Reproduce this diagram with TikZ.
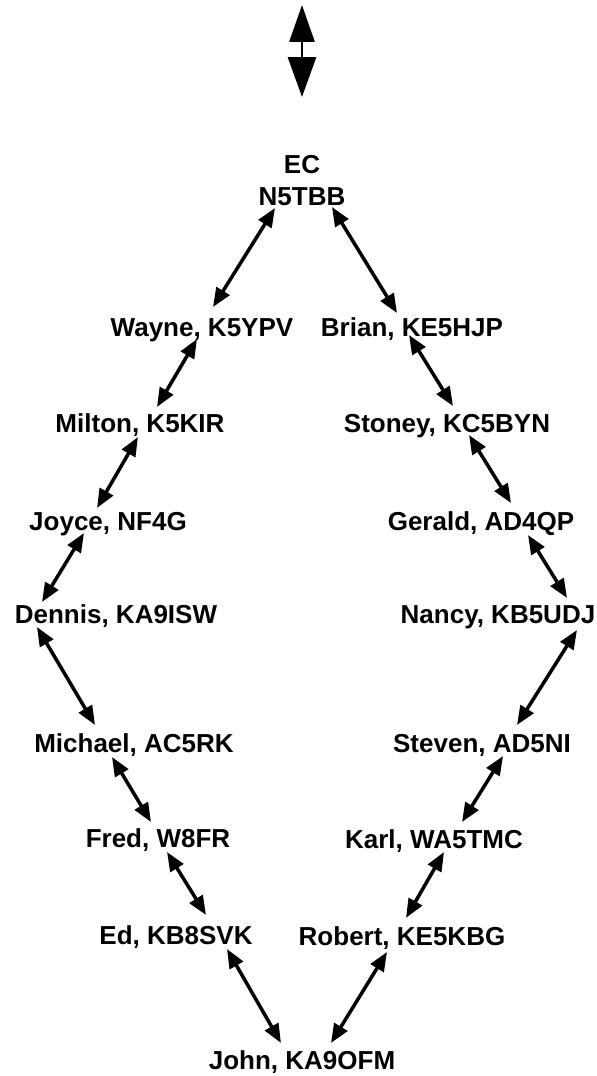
\documentclass[tikz,border=0pt]{standalone}
\usepackage{fontspec}
\setmainfont{Liberation Sans}
\usetikzlibrary{arrows.meta,calc}

\tikzset{
  station/.style={font=\fontsize{14.8}{18.2}\selectfont\bfseries, anchor=base, inner sep=0pt},
  link/.style={<->, line width=2pt}
}

\begin{document}
\begin{tikzpicture}[x=0.02cm, y=-0.02cm, >={Triangle[length=0.38cm,width=0.3cm]}]

\useasboundingbox (0,0) rectangle (596,1076);

% up/down symbol
\coordinate (up) at (302,5);
\coordinate (down) at (302,97);
\draw[line width=1.7pt, {Triangle[length=0.74cm,width=0.5cm]}-{Triangle[length=0.8cm,width=0.56cm]}] (up) -- (down);

\node [station, anchor=center, align=center] (ec) at (302,181) {EC\\N5TBB};

% left side
\node [station] (wayne)   at (202,336) {Wayne, K5YPV};
\node [station] (milton)  at (140,432) {Milton, K5KIR};
\node [station] (joyce)   at (108,530) {Joyce, NF4G};
\node [station] (dennis)  at (116,623) {Dennis, KA9ISW};
\node [station] (michael) at (134,752) {Michael, AC5RK};
\node [station] (fred)    at (158,847) {Fred, W8FR};
\node [station] (ed)      at (176,944) {Ed, KB8SVK};

% right side
\node [station] (brian)  at (412,336) {Brian, KE5HJP};
\node [station] (stoney) at (447,432) {Stoney, KC5BYN};
\node [station] (gerald) at (481,530) {Gerald, AD4QP};
\node [station] (nancy)  at (498,623) {Nancy, KB5UDJ};
\node [station] (steven) at (482,752) {Steven, AD5NI};
\node [station] (karl)   at (434,848) {Karl, WA5TMC};
\node [station] (robert) at (402,945) {Robert, KE5KBG};

\node [station] (john) at (302,1069) {John, KA9OFM};

\draw[link] ($(ec)+(-27,27)$) -- ($(wayne.base)+(11,-29)$);
\draw[link] ($(wayne.base)+(-5,3)$) -- ($(milton.base)+(17,-25)$);
\draw[link] ($(milton.base)+(-2,5)$) -- ($(joyce.base)+(-11,-22)$);
\draw[link] ($(joyce.base)+(-24,3)$) -- ($(dennis.base)+(-74,-21)$);
\draw[link] ($(dennis.base)+(-79,4)$) -- ($(michael.base)+(-39,-27)$);
\draw[link] ($(michael.base)+(-22,5)$) -- ($(fred.base)+(-7,-25)$);
\draw[link] ($(fred.base)+(9,5)$) -- ($(ed.base)+(30,-29)$);
\draw[link] ($(ed.base)+(51,5)$) -- ($(john.base)+(-21,-26)$);

\draw[link] ($(ec)+(30,26)$) -- ($(brian.base)+(-15,-23)$);
\draw[link] ($(brian.base)+(-3,-1)$) -- ($(stoney.base)+(6,-26)$);
\draw[link] ($(stoney.base)+(22,3)$) -- ($(gerald.base)+(30,-27)$);
\draw[link] ($(gerald.base)+(47,5)$) -- ($(nancy.base)+(69,-25)$);
\draw[link] ($(nancy.base)+(79,7)$) -- ($(steven.base)+(35,-27)$);
\draw[link] ($(steven.base)+(21,4)$) -- ($(karl.base)+(28,-26)$);
\draw[link] ($(karl.base)+(10,4)$) -- ($(robert.base)+(4,-27)$);
\draw[link] ($(robert.base)+(-15,7)$) -- ($(john.base)+(29,-26)$);

\end{tikzpicture}
\end{document}
